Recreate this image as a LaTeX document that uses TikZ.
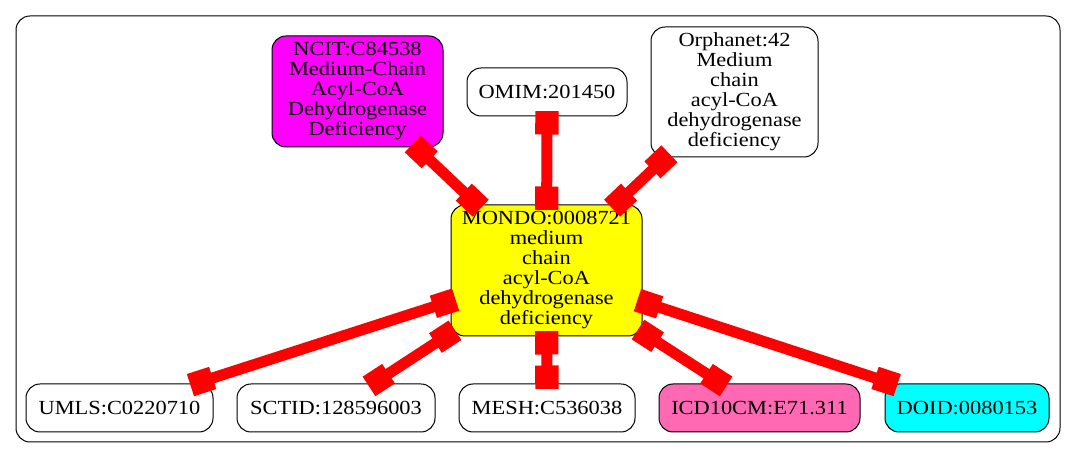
\documentclass[tikz,border=0pt]{standalone}
\usepackage{fontspec}
\setmainfont{Liberation Serif}[FakeStretch=1.12]
\usetikzlibrary{arrows.meta}
\definecolor{hotpinkc}{HTML}{FF69B4}
\definecolor{magentac}{HTML}{FF00FF}
\definecolor{cyanc}{HTML}{00FFFF}
\definecolor{yellowc}{HTML}{FFFF00}
\definecolor{redc}{HTML}{FF0000}
\begin{document}
\begin{tikzpicture}[x=0.75pt,y=-0.75pt,
  box/.style={draw=black,line width=0.75pt,rounded corners=10.5pt,align=center,inner sep=0pt,
    font=\fontsize{15}{15}\selectfont},
  link/.style={draw=redc,line width=8.25pt,{Square[length=17.5pt,width=17.5pt]}-{Square[length=17.5pt,width=17.5pt]},
    shorten <=-4pt,shorten >=-4pt}]
\useasboundingbox (0,0) rectangle (1076,459);
\draw[line width=0.75pt,rounded corners=10.5pt] (16,16) rectangle (1060,442);
\node[box,fill=magentac,minimum width=128.25pt,minimum height=83.25pt] (ncit) at (357.5,91.5)
  {NCIT:C84538\\Medium-Chain\\Acyl-CoA\\Dehydrogenase\\Deficiency};
\node[box,fill=white,minimum width=120pt,minimum height=36pt] (omim) at (547,92) {OMIM:201450};
\node[box,fill=white,minimum width=125.25pt,minimum height=97.5pt] (orpha) at (734.5,92)
  {Orphanet:42\\Medium\\chain\\acyl-CoA\\dehydrogenase\\deficiency};
\node[box,fill=yellowc,minimum width=143.25pt,minimum height=98.25pt] (mondo) at (546.5,270.5)
  {MONDO:0008721\\medium\\chain\\acyl-CoA\\dehydrogenase\\deficiency};
\node[box,fill=white,minimum width=140.25pt,minimum height=36pt] (umls) at (119.5,408) {UMLS:C0220710};
\node[box,fill=white,minimum width=148.5pt,minimum height=36pt] (sctid) at (336,408) {SCTID:128596003};
\node[box,fill=white,minimum width=132pt,minimum height=36pt] (mesh) at (547,408) {MESH:C536038};
\node[box,fill=hotpinkc,minimum width=150.75pt,minimum height=36pt] (icd) at (759.5,408) {ICD10CM:E71.311};
\node[box,fill=cyanc,minimum width=123pt,minimum height=36pt] (doid) at (967,408) {DOID:0080153};
\draw[link] (ncit) -- (mondo);
\draw[link] (omim) -- (mondo);
\draw[link] (orpha) -- (mondo);
\draw[link] (mondo) -- (umls);
\draw[link] (mondo) -- (sctid);
\draw[link] (mondo) -- (mesh);
\draw[link] (mondo) -- (icd);
\draw[link] (mondo) -- (doid);
\end{tikzpicture}
\end{document}
